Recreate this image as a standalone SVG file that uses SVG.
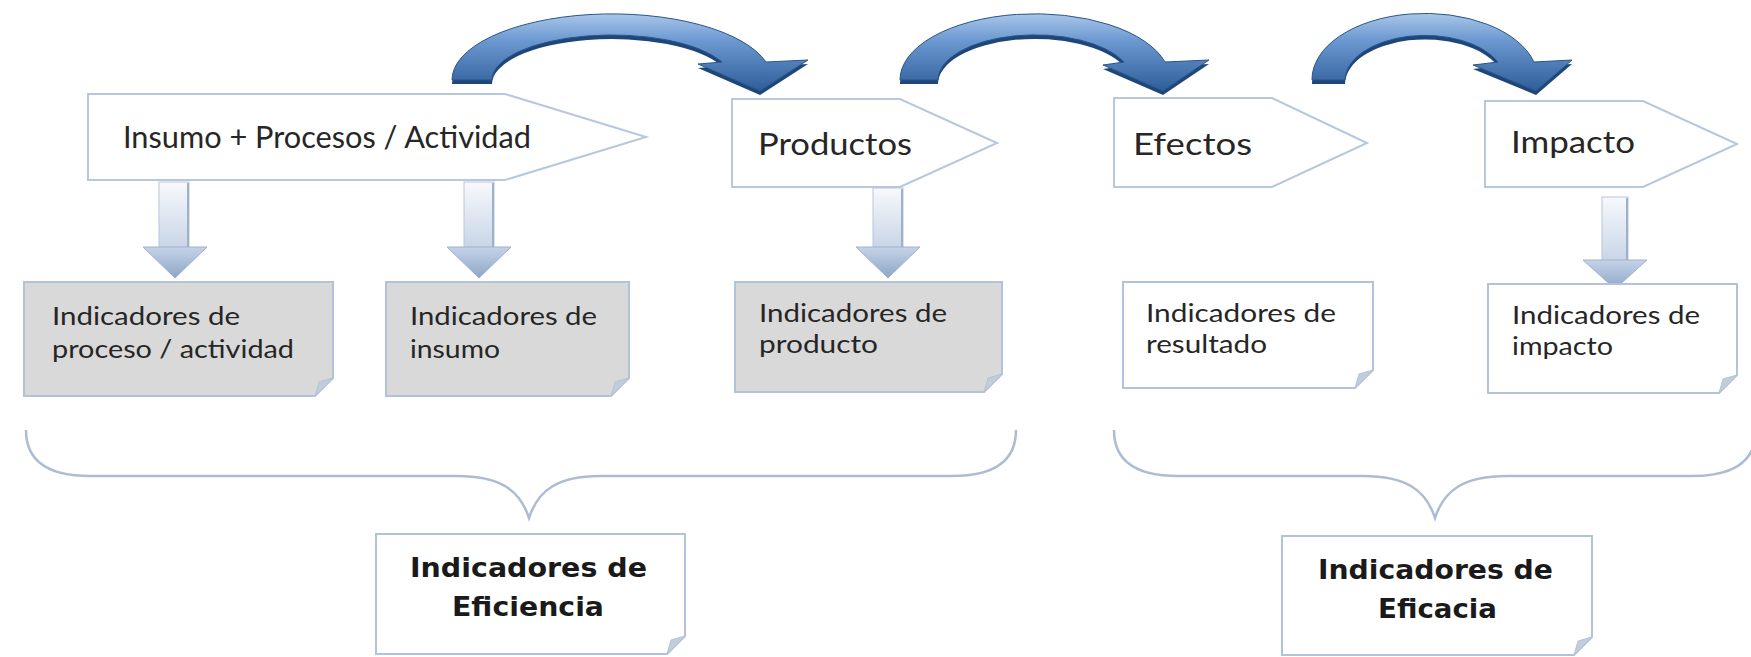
<svg xmlns="http://www.w3.org/2000/svg" width="1751" height="657" viewBox="0 0 1751 657">
<defs>
<linearGradient id="arcG" x1="0" y1="0" x2="0" y2="1">
<stop offset="0" stop-color="#a9c6ea"/>
<stop offset="0.35" stop-color="#6b98d0"/>
<stop offset="1" stop-color="#2f5d99"/>
</linearGradient>
<linearGradient id="shaftG" x1="0" y1="0" x2="0" y2="1">
<stop offset="0" stop-color="#f7f9fc"/>
<stop offset="1" stop-color="#c8d5e7"/>
</linearGradient>
<linearGradient id="headG" x1="0" y1="0" x2="0" y2="1">
<stop offset="0" stop-color="#c5d3e7"/>
<stop offset="1" stop-color="#8ea6c8"/>
</linearGradient>
<style>
.pent{fill:#ffffff;stroke:#b7c7de;stroke-width:2}
.box{stroke:#b3c2da;stroke-width:2}
.gray{fill:#d9d9d9}
.white{fill:#ffffff}
.fold{fill:#c3ccd9;stroke:#b3c2da;stroke-width:1}
.t{font-family:Lato,"Open Sans","Liberation Sans",sans-serif;fill:#262626}
.big{font-size:30px}
.sm{font-size:25.5px}
.bold{font-family:"DejaVu Sans","Liberation Sans",sans-serif;font-weight:bold;font-size:27px;fill:#1a1a1a}
.brace{fill:none;stroke:#aebcd3;stroke-width:2.5}
.arc{fill:url(#arcG);stroke:#2a5589;stroke-width:1}
.arcsh{fill:#1f4678}
.shaft{fill:url(#shaftG);stroke:#b9c6d9;stroke-width:1}
.head{fill:url(#headG);stroke:#9fb2ce;stroke-width:1}
</style>
</defs>
<rect width="1751" height="657" fill="#ffffff"/>

<g id="connectors">
<g id="arc1">
<path class="arcsh" transform="translate(0,4)" d="M452,80 A160,66 0 0 1 766,62 L808,60 L760,91 L698,64 L722,62 A120,45 0 0 0 492,80 Z"/>
<path class="arc" d="M452,80 A160,66 0 0 1 766,62 L808,60 L760,91 L698,64 L722,62 A120,45 0 0 0 492,80 Z"/>
</g>
<g id="arc2">
<path class="arcsh" transform="translate(0,4)" d="M900,80 A135,66 0 0 1 1165,62 L1209,60 L1163,91 L1103,65 L1124,62 A97,45 0 0 0 938,80 Z"/>
<path class="arc" d="M900,80 A135,66 0 0 1 1165,62 L1209,60 L1163,91 L1103,65 L1124,62 A97,45 0 0 0 938,80 Z"/>
</g>
<g id="arc3">
<path class="arcsh" transform="translate(0,4)" d="M1312,80 A113,66 0 0 1 1534,62 L1572,60 L1536,91 L1473,65 L1498,62 A80,45 0 0 0 1345,80 Z"/>
<path class="arc" d="M1312,80 A113,66 0 0 1 1534,62 L1572,60 L1536,91 L1473,65 L1498,62 A80,45 0 0 0 1345,80 Z"/>
</g>
<g id="down1">
<rect class="shaft" x="159" y="182" width="30" height="66"/>
<line x1="188" y1="183" x2="188" y2="247" stroke="#9fb0c9" stroke-width="2"/>
<path class="head" d="M143,247 L207,247 L175,278 Z"/>
</g>
<g id="down2">
<rect class="shaft" x="464" y="182" width="30" height="66"/>
<line x1="493" y1="183" x2="493" y2="247" stroke="#9fb0c9" stroke-width="2"/>
<path class="head" d="M447,247 L511,247 L479,278 Z"/>
</g>
<g id="down3">
<rect class="shaft" x="873" y="188" width="30" height="60"/>
<line x1="902" y1="189" x2="902" y2="247" stroke="#9fb0c9" stroke-width="2"/>
<path class="head" d="M856,247 L920,247 L888,278 Z"/>
</g>
<g id="down4">
<rect class="shaft" x="1602" y="197" width="26" height="64"/>
<line x1="1627" y1="198" x2="1627" y2="260" stroke="#9fb0c9" stroke-width="2"/>
<path class="head" d="M1583,260 L1647,260 L1615,289 Z"/>
</g>
<path class="brace" d="M26,430 C26,462 50,476 90,476 L457,476 C500,476 520,490 529,518 C538,490 558,476 600,476 L952,476 C992,476 1016,462 1016,430"/>
<path class="brace" d="M1114,430 C1114,462 1138,476 1178,476 L1363,476 C1406,476 1426,490 1435,518 C1444,490 1464,476 1507,476 L1692,476 C1732,476 1756,462 1756,430"/>
</g>

<g id="insumo">
<path class="pent" d="M88,94 L505,94 L646,137 L505,180 L88,180 Z"/>
<text class="t big" x="123" y="148" textLength="408" lengthAdjust="spacingAndGlyphs">Insumo + Procesos / Actividad</text>
</g>
<g id="productos">
<path class="pent" d="M732,99 L900,99 L997,143 L900,187 L732,187 Z"/>
<text class="t big" x="758" y="155" textLength="154" lengthAdjust="spacingAndGlyphs">Productos</text>
</g>
<g id="efectos">
<path class="pent" d="M1114,98 L1272,98 L1367,143 L1272,187 L1114,187 Z"/>
<text class="t big" x="1133" y="155" textLength="119" lengthAdjust="spacingAndGlyphs">Efectos</text>
</g>
<g id="impacto">
<path class="pent" d="M1485,101 L1643,101 L1737,144 L1643,187 L1485,187 Z"/>
<text class="t big" x="1511" y="153" textLength="124" lengthAdjust="spacingAndGlyphs">Impacto</text>
</g>

<g id="ind-proceso">
<path class="box gray" d="M24,282 L333,282 L333,378 L315,396 L24,396 Z"/>
<path class="fold" d="M333,378 L315,396 L319,382 Z"/>
<text class="t sm" x="52" y="325" textLength="188" lengthAdjust="spacingAndGlyphs">Indicadores de</text>
<text class="t sm" x="52" y="358" textLength="242" lengthAdjust="spacingAndGlyphs">proceso / actividad</text>
</g>
<g id="ind-insumo">
<path class="box gray" d="M386,282 L629,282 L629,378 L611,396 L386,396 Z"/>
<path class="fold" d="M629,378 L611,396 L615,382 Z"/>
<text class="t sm" x="410" y="325" textLength="187" lengthAdjust="spacingAndGlyphs">Indicadores de</text>
<text class="t sm" x="410" y="358" textLength="90" lengthAdjust="spacingAndGlyphs">insumo</text>
</g>
<g id="ind-producto">
<path class="box gray" d="M735,282 L1002,282 L1002,374 L984,392 L735,392 Z"/>
<path class="fold" d="M1002,374 L984,392 L988,378 Z"/>
<text class="t sm" x="759" y="322" textLength="188" lengthAdjust="spacingAndGlyphs">Indicadores de</text>
<text class="t sm" x="759" y="353" textLength="119" lengthAdjust="spacingAndGlyphs">producto</text>
</g>
<g id="ind-resultado">
<path class="box white" d="M1123,282 L1373,282 L1373,370 L1355,388 L1123,388 Z"/>
<path class="fold" d="M1373,370 L1355,388 L1359,374 Z"/>
<text class="t sm" x="1146" y="322" textLength="190" lengthAdjust="spacingAndGlyphs">Indicadores de</text>
<text class="t sm" x="1146" y="353" textLength="121" lengthAdjust="spacingAndGlyphs">resultado</text>
</g>
<g id="ind-impacto">
<path class="box white" d="M1488,284 L1737,284 L1737,375 L1719,393 L1488,393 Z"/>
<path class="fold" d="M1737,375 L1719,393 L1723,379 Z"/>
<text class="t sm" x="1512" y="324" textLength="188" lengthAdjust="spacingAndGlyphs">Indicadores de</text>
<text class="t sm" x="1512" y="355" textLength="101" lengthAdjust="spacingAndGlyphs">impacto</text>
</g>

<g id="eficiencia">
<path class="box white" d="M376,534 L685,534 L685,636 L667,654 L376,654 Z"/>
<path class="fold" d="M685,636 L667,654 L671,640 Z"/>
<text class="bold" x="410" y="577" textLength="237" lengthAdjust="spacingAndGlyphs">Indicadores de</text>
<text class="bold" x="452" y="616" textLength="152" lengthAdjust="spacingAndGlyphs">Eficiencia</text>
</g>
<g id="eficacia">
<path class="box white" d="M1282,536 L1592,536 L1592,637 L1574,655 L1282,655 Z"/>
<path class="fold" d="M1592,637 L1574,655 L1578,641 Z"/>
<text class="bold" x="1318" y="579" textLength="235" lengthAdjust="spacingAndGlyphs">Indicadores de</text>
<text class="bold" x="1378" y="618" textLength="119" lengthAdjust="spacingAndGlyphs">Eficacia</text>
</g>
</svg>
